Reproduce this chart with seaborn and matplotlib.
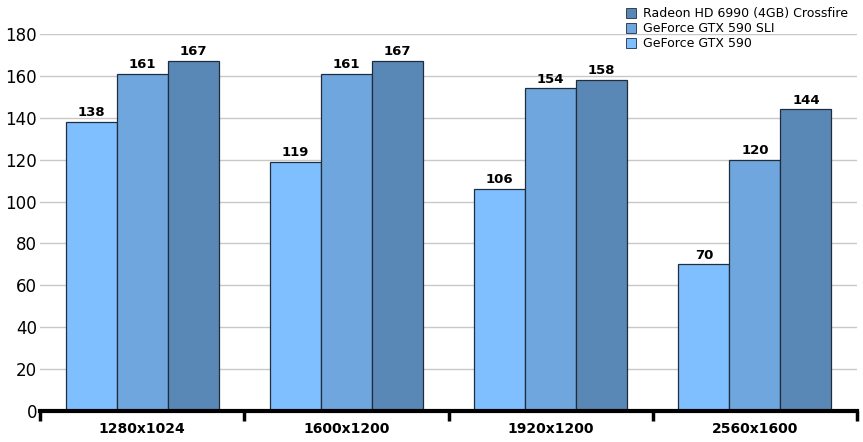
import matplotlib
matplotlib.use("Agg")
import matplotlib.pyplot as plt
import seaborn as sns
import pandas as pd
from matplotlib.patches import Patch

# --- Data ---
resolutions = ["1280x1024", "1600x1200", "1920x1200", "2560x1600"]
gtx590 = [138, 119, 106, 70]
gtx590_sli = [161, 161, 154, 120]
hd6990_cf = [167, 167, 158, 144]
series = ["GeForce GTX 590", "GeForce GTX 590 SLI", "Radeon HD 6990 (4GB) Crossfire"]

colors = {
    "GeForce GTX 590": "#80BFFF",
    "GeForce GTX 590 SLI": "#6FA6DD",
    "Radeon HD 6990 (4GB) Crossfire": "#5A88B6",
}

df = pd.DataFrame({
    "Resolution": resolutions * 3,
    "Series": [series[0]] * 4 + [series[1]] * 4 + [series[2]] * 4,
    "FPS": gtx590 + gtx590_sli + hd6990_cf,
})

sns.set_style("white")
plt.rcParams["font.family"] = ["DejaVu Sans"]
plt.rcParams["text.color"] = "black"
plt.rcParams["xtick.color"] = "black"
plt.rcParams["ytick.color"] = "black"
plt.rcParams["xtick.labelcolor"] = "black"
plt.rcParams["ytick.labelcolor"] = "black"

fig = plt.figure(figsize=(8.63, 4.42), dpi=100)
ax = fig.add_axes([40 / 863, 31 / 442, 817 / 863, 377 / 442])

sns.barplot(
    data=df, x="Resolution", y="FPS", hue="Series",
    order=resolutions, hue_order=series, palette=colors, saturation=1,
    width=0.75, edgecolor="#1f2d3d", linewidth=0.9, ax=ax,
    legend=False, errorbar=None,
)

for container in ax.containers:
    ax.bar_label(container, fmt="%d", padding=2, fontsize=9.5,
                 fontweight="bold", color="black")

ax.set_ylim(0, 180)
ax.set_xlim(-0.5, 3.5)
ax.set_yticks(range(0, 181, 20))
ax.yaxis.grid(True, color="#c8c8c8", linewidth=1)
ax.set_axisbelow(True)
ax.set_xlabel("")
ax.set_ylabel("")

for side in ["top", "right", "left"]:
    ax.spines[side].set_visible(False)
ax.spines["bottom"].set_linewidth(3)
ax.spines["bottom"].set_color("black")

ax.tick_params(axis="y", length=0, labelsize=12, pad=2, labelcolor="black")
ax.tick_params(axis="x", which="major", length=0, labelsize=10, pad=8, labelcolor="black")
for lbl in ax.get_xticklabels():
    lbl.set_fontweight("bold")
ax.set_xticks([-0.5, 0.5, 1.5, 2.5, 3.5], minor=True)
ax.tick_params(axis="x", which="minor", bottom=True, length=7, width=2.5,
               color="black", direction="out")

handles = [Patch(facecolor=colors[s], edgecolor="#1f2d3d", linewidth=0.6) for s in reversed(series)]
fig.legend(
    handles, list(reversed(series)), loc="upper left", bbox_to_anchor=(618 / 863, 1.0),
    frameon=False, fontsize=9, handlelength=0.8, handleheight=0.8,
    handletextpad=0.6, labelspacing=0.15, borderaxespad=0.2, labelcolor="black",
)

fig.savefig("out.png", dpi=100)
